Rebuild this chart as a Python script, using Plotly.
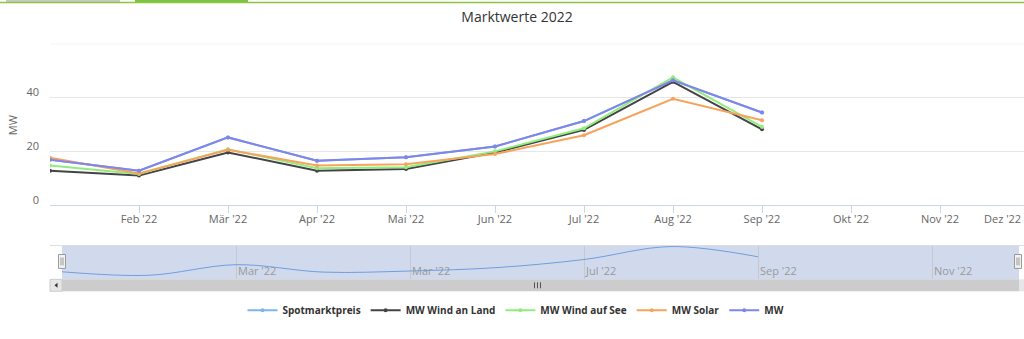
import plotly.graph_objects as go

W, H = 1024, 339

# ---------------- data ----------------
month_labels = ["Jan '22", "Feb '22", "Mär '22", "Apr '22", "Mai '22", "Jun '22",
                "Jul '22", "Aug '22", "Sep '22", "Okt '22", "Nov '22", "Dez '22"]
month_idx = [0, 1, 2, 3, 4, 5, 6, 7, 8]          # Jan .. Sep 2022

spotmarktpreis = [16.8, 12.7, 25.1, 16.4, 17.7, 21.7, 31.2, 46.4, 34.4]
wind_an_land   = [12.7, 10.9, 19.5, 12.7, 13.3, 19.5, 27.9, 45.8, 28.1]
wind_auf_see   = [14.6, 11.5, 20.7, 13.6, 14.0, 19.9, 28.5, 47.5, 29.0]
solar          = [17.5, 11.7, 20.5, 14.6, 15.1, 18.9, 25.9, 39.5, 31.5]
mw             = [16.8, 12.7, 25.1, 16.4, 17.7, 21.7, 31.2, 46.4, 34.4]

series_names = ["Spotmarktpreis", "MW Wind an Land", "MW Wind auf See", "MW Solar", "MW"]
series_colors = ["#7cb5ec", "#434348", "#90ed7d", "#f7a35c", "#8085e9"]
series_values = [spotmarktpreis, wind_an_land, wind_auf_see, solar, mw]

main_tick_vals = [1, 2, 3, 4, 5, 6, 7, 8, 9, 10]
nav_tick_vals = [2, 4, 6, 8, 10]
nav_tick_text = ["Mar '22", "Mar '22", "Jul '22", "Sep '22", "Nov '22"]
y_tick_vals = [0, 20, 40, 60]
y_tick_text = ["0", "20", "40", ""]
y_max = 60


def px(x):
    return x / W


def py(y):
    return 1 - y / H


FONT = "Open Sans, DejaVu Sans, sans-serif"

fig = go.Figure()

for name, color, vals in zip(series_names, series_colors, series_values):
    fig.add_trace(go.Scatter(
        x=month_idx, y=vals, name=name, mode="lines+markers",
        line=dict(color=color, width=2),
        marker=dict(color=color, size=4),
        xaxis="x", yaxis="y",
    ))

# navigator series (first series, spline)
fig.add_trace(go.Scatter(
    x=month_idx, y=spotmarktpreis, mode="lines", line=dict(color="#6f9de0", width=1, shape="spline"),
    showlegend=False, hoverinfo="skip", xaxis="x2", yaxis="y2",
))

shapes = []
# top gridline of the main plot
shapes.append(dict(type="line", xref="paper", yref="y", x0=px(50), x1=1, y0=y_max, y1=y_max,
                   line=dict(color="#e6e6e6", width=1), layer="below"))
# page decorations on top
shapes.append(dict(type="rect", xref="paper", yref="paper", x0=px(6), x1=px(120), y0=py(2.5), y1=py(0),
                   fillcolor="#c8c8c8", line=dict(width=0)))
shapes.append(dict(type="rect", xref="paper", yref="paper", x0=px(135), x1=px(248), y0=py(2.5), y1=py(0),
                   fillcolor="#7dc242", line=dict(width=0)))
shapes.append(dict(type="line", xref="paper", yref="paper", x0=0, x1=1, y0=py(2.5), y1=py(2.5),
                   line=dict(color="#8cc63f", width=1.5)))

# navigator mask
shapes.append(dict(type="rect", xref="paper", yref="paper", x0=px(62), x1=px(1019), y0=py(281), y1=py(247),
                   fillcolor="rgba(102,133,194,0.3)", line=dict(width=0), layer="below"))
shapes.append(dict(type="line", xref="paper", yref="paper", x0=px(50), x1=1, y0=py(247), y1=py(247),
                   line=dict(color="#dddddd", width=1)))
# scrollbar
shapes.append(dict(type="rect", xref="paper", yref="paper", x0=px(62), x1=px(1019), y0=py(293), y1=py(281),
                   fillcolor="#cccccc", line=dict(width=0)))
shapes.append(dict(type="rect", xref="paper", yref="paper", x0=px(1019), x1=1, y0=py(293), y1=py(281),
                   fillcolor="#e6e6e6", line=dict(width=0)))
shapes.append(dict(type="rect", xref="paper", yref="paper", x0=px(50), x1=px(62), y0=py(293), y1=py(281),
                   fillcolor="#e6e6e6", line=dict(color="#cccccc", width=1)))
shapes.append(dict(type="path", xref="paper", yref="paper",
                   path=f"M {px(54.5)} {py(287)} L {px(57.5)} {py(284.5)} L {px(57.5)} {py(289.5)} Z",
                   fillcolor="#333333", line=dict(width=0)))
for rx in (534.5, 537.5, 540.5):
    shapes.append(dict(type="line", xref="paper", yref="paper", x0=px(rx), x1=px(rx), y0=py(284), y1=py(290),
                       line=dict(color="#555555", width=1)))
# navigator handles
for hx in (62, 1018):
    shapes.append(dict(type="rect", xref="paper", yref="paper", x0=px(hx - 3.5), x1=px(hx + 3.5),
                       y0=py(270), y1=py(256), fillcolor="#f2f2f2", line=dict(color="#999999", width=1)))
    for lx in (hx - 1, hx + 1):
        shapes.append(dict(type="line", xref="paper", yref="paper", x0=px(lx), x1=px(lx),
                           y0=py(267), y1=py(259), line=dict(color="#999999", width=1)))

annotations = [
    dict(text="MW", x=px(12), y=py(126), xref="paper", yref="paper", showarrow=False, textangle=-90,
         xanchor="center", yanchor="middle", font=dict(family=FONT, size=11, color="#666666")),
    dict(text=month_labels[11], x=px(1023), y=py(219.5), xref="paper", yref="paper", showarrow=False,
         xanchor="right", yanchor="middle", font=dict(family=FONT, size=11, color="#666666")),
]

fig.update_layout(
    width=W, height=H,
    margin=dict(l=0, r=0, t=0, b=0),
    paper_bgcolor="white", plot_bgcolor="rgba(0,0,0,0)",
    font=dict(family=FONT, size=11, color="#666666"),
    title=dict(text="Marktwerte 2022", x=px(517), xanchor="center", y=py(17), yanchor="middle",
               font=dict(family=FONT, size=14, color="#333333")),
    xaxis=dict(domain=[px(50), 1], range=[0, (1024 - 50) / 89], tickvals=main_tick_vals,
               ticktext=month_labels[1:11], showgrid=False, zeroline=False,
               showline=True, linecolor="#ccd6eb", linewidth=1,
               ticks="outside", ticklen=7, tickcolor="#ccd6eb", ticklabelstandoff=-3,
               tickfont=dict(family=FONT, size=11, color="#666666"), anchor="y", fixedrange=True),
    yaxis=dict(domain=[py(206), py(44)], range=[0, y_max], tickvals=y_tick_vals, ticktext=y_tick_text,
               showgrid=True, gridcolor="#e6e6e6", zeroline=False, showline=False,
               ticks="", ticklabelstandoff=10, ticklabelshift=-5,
               tickfont=dict(family=FONT, size=11, color="#666666"), anchor="x", fixedrange=True),
    xaxis2=dict(domain=[px(62), px(1019)], range=[0, 11], tickvals=nav_tick_vals, ticktext=nav_tick_text,
                showgrid=True, gridcolor="#c3c8d2", zeroline=False, showline=False,
                ticks="", ticklabelposition="inside right", ticklabelstandoff=-4, ticklabelshift=2,
                tickfont=dict(family=FONT, size=11, color="#999999"), anchor="y2", fixedrange=True),
    yaxis2=dict(domain=[py(281), py(247)], range=[7.9, 47.6], visible=False, anchor="x2", fixedrange=True),
    legend=dict(orientation="h", x=px(516), xanchor="center", y=py(312), yanchor="middle",
                font=dict(family=FONT, size=10, color="#333333", weight="bold"),
                itemwidth=30, bgcolor="rgba(0,0,0,0)"),
    shapes=shapes,
    annotations=annotations,
    showlegend=True,
)

fig.write_html("out.html")
